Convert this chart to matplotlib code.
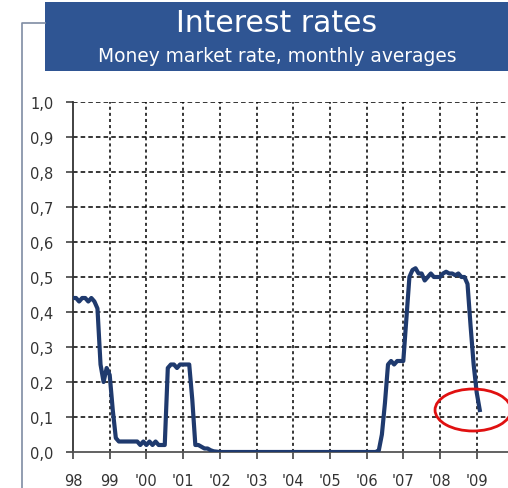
import numpy as np
import matplotlib
matplotlib.use("Agg")
import matplotlib.pyplot as plt
from matplotlib.patches import Ellipse, Rectangle
from matplotlib.lines import Line2D

# monthly averages of the money market rate, Jan..Dec per year (%)
rate_1998 = [0.44, 0.44, 0.43, 0.44, 0.44, 0.43, 0.44, 0.43, 0.41, 0.25, 0.20, 0.24]
rate_1999 = [0.22, 0.12, 0.04, 0.03, 0.03, 0.03, 0.03, 0.03, 0.03, 0.03, 0.02, 0.03]
rate_2000 = [0.02, 0.03, 0.02, 0.03, 0.02, 0.02, 0.02, 0.24, 0.25, 0.25, 0.24, 0.25]
rate_2001 = [0.25, 0.25, 0.25, 0.15, 0.02, 0.02, 0.015, 0.01, 0.01, 0.005, 0.002, 0.001]
rate_2002 = [0.0] * 12
rate_2003 = [0.0] * 12
rate_2004 = [0.0] * 12
rate_2005 = [0.0] * 12
rate_2006 = [0.0, 0.0, 0.0, 0.0, 0.005, 0.05, 0.14, 0.25, 0.26, 0.25, 0.26, 0.26]
rate_2007 = [0.26, 0.38, 0.50, 0.52, 0.525, 0.51, 0.51, 0.49, 0.50, 0.51, 0.50, 0.50]
rate_2008 = [0.50, 0.51, 0.515, 0.51, 0.51, 0.505, 0.51, 0.50, 0.50, 0.48, 0.36, 0.25]
rate_2009 = [0.17, 0.12]

years = list(range(1998, 2010))
tick_labels = ["98", "99", "'00", "'01", "'02", "'03", "'04", "'05", "'06", "'07", "'08", "'09"]
y_ticks = [0.0, 0.1, 0.2, 0.3, 0.4, 0.5, 0.6, 0.7, 0.8, 0.9, 1.0]

rates = (rate_1998 + rate_1999 + rate_2000 + rate_2001 + rate_2002 + rate_2003
         + rate_2004 + rate_2005 + rate_2006 + rate_2007 + rate_2008 + rate_2009)
t = 1998 + np.arange(len(rates)) / 12.0

fig = plt.figure(figsize=(5.08, 4.89), dpi=100)
fig.patch.set_facecolor("white")

W, H = 508.0, 489.0

# header box with title
fig.patches.append(Rectangle((45 / W, 1 - 72 / H), 1 - 45 / W, 69 / H,
                             transform=fig.transFigure, facecolor="#2f5593",
                             edgecolor="none"))
fig.text(277 / W, 1 - 24 / H, "Interest rates", color="white", fontsize=21.5,
         ha="center", va="center")
fig.text(277 / W, 1 - 56 / H, "Money market rate, monthly averages", color="white",
         fontsize=13.4, ha="center", va="center")

# frame line on the left
fig.lines.append(Line2D([22 / W, 22 / W, 45 / W], [0, 1 - 24 / H, 1 - 24 / H],
                        transform=fig.transFigure, color="#7f8ca3", lw=1.2))

ax = fig.add_axes([73 / W, 36 / H, 1 - 73 / W, (453 - 103) / H])
ax.plot(t, rates, color="#1f3a6e", lw=3.0, solid_joinstyle="round", zorder=3)

ax.set_xlim(1998, 1998 + (W - 73) / 36.7)
ax.set_ylim(0, 1.0)
ax.set_xticks(years)
ax.set_xticklabels(tick_labels)
ax.set_yticks(y_ticks)
ax.set_yticklabels([f"{v:.1f}".replace(".", ",") for v in y_ticks])

for v in y_ticks[1:]:
    ax.axhline(v, color="black", lw=1.1, ls=(0, (3, 2)), zorder=1)
for yr in years[1:]:
    ax.axvline(yr, color="black", lw=1.1, ls=(0, (2, 2)), zorder=1)

for s in ["top", "right"]:
    ax.spines[s].set_visible(False)
ax.spines["left"].set_color("#333333")
ax.spines["left"].set_linewidth(1.3)
ax.spines["bottom"].set_color("#555555")
ax.spines["bottom"].set_linewidth(1.3)

ax.tick_params(axis="both", colors="#333333", labelsize=10.5, length=5, width=1.1)
ax.tick_params(axis="y", pad=9)
ax.tick_params(axis="x", pad=10)

# highlight the latest value
ax.add_patch(Ellipse((2008.9, 0.12), 2.07, 0.12, fill=False, edgecolor="#e01010",
                     lw=2.0, clip_on=False, zorder=4))

fig.savefig("out.png", dpi=100)
